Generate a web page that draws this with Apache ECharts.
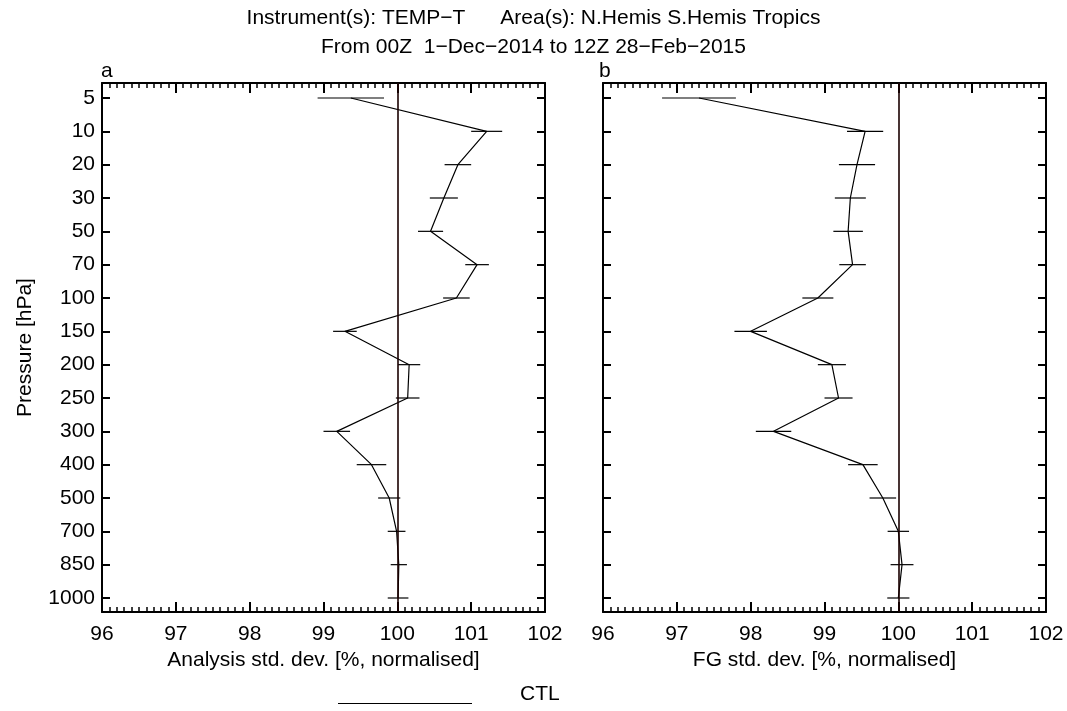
<!DOCTYPE html>
<html>
<head>
<meta charset="utf-8">
<script src="https://cdn.jsdelivr.net/npm/echarts@6/dist/echarts.min.js"></script>
<style>
html,body{margin:0;padding:0;background:#fff;}
#chart{width:1067px;height:711px;}
</style>
</head>
<body>
<div id="chart"></div>
<script>
// Pressure levels (hPa), top to bottom
const levels = [5, 10, 20, 30, 50, 70, 100, 150, 200, 250, 300, 400, 500, 700, 850, 1000];
// Panel a: Analysis std. dev. [%, normalised]
const anValues = [99.37, 101.21, 100.82, 100.63, 100.45, 101.08, 100.80, 99.29, 100.16, 100.14, 99.18, 99.65, 99.89, 99.99, 100.02, 100.01];
const anErrors = [0.45, 0.21, 0.18, 0.19, 0.17, 0.16, 0.18, 0.16, 0.15, 0.16, 0.18, 0.20, 0.15, 0.12, 0.11, 0.14];
// Panel b: FG std. dev. [%, normalised]
const fgValues = [97.30, 99.55, 99.44, 99.35, 99.32, 99.38, 98.91, 98.00, 99.10, 99.19, 98.31, 99.52, 99.79, 100.00, 100.05, 100.00];
const fgErrors = [0.50, 0.245, 0.245, 0.21, 0.20, 0.18, 0.21, 0.22, 0.19, 0.19, 0.24, 0.20, 0.18, 0.145, 0.155, 0.15];
const xTicks = [96, 97, 98, 99, 100, 101, 102];
const ctlValue = 100;

const FONT = 'Liberation Sans, Arial, Helvetica, sans-serif';
const FS = 21;
const chart = echarts.init(document.getElementById('chart'), null, {renderer: 'canvas'});

const idx = levels.map((_, i) => i);
const grids = [
  {left: 102, top: 83, width: 443, height: 529},
  {left: 603, top: 83, width: 443, height: 529}
];

function xAxisCfg(grid, pos, name) {
  return {
    type: 'value', gridIndex: grid, position: pos,
    min: xTicks[0], max: xTicks[xTicks.length - 1], interval: 1,
    name: name || '', nameLocation: 'middle', nameGap: 37,
    nameTextStyle: {fontFamily: FONT, fontSize: FS, color: '#000'},
    axisLine: {show: true, onZero: false, lineStyle: {color: '#000', width: 2}},
    axisTick: {show: true, inside: true, length: 10, lineStyle: {color: '#000', width: 2}},
    minorTick: {show: true, splitNumber: 10, length: 5, lineStyle: {color: '#000', width: 1.5}},
    axisLabel: {show: pos === 'bottom', fontFamily: FONT, fontSize: FS, color: '#000', margin: 12},
    splitLine: {show: false}, minorSplitLine: {show: false}
  };
}
function yAxisCfg(grid, pos, labels) {
  return {
    type: 'value', gridIndex: grid, position: pos, inverse: true,
    min: -0.45, max: 15.42,
    name: (labels && grid === 0) ? 'Pressure [hPa]' : '', nameLocation: 'middle', nameGap: 66,
    nameTextStyle: {fontFamily: FONT, fontSize: FS, color: '#000'},
    axisLine: {show: true, onZero: false, lineStyle: {color: '#000', width: 2}},
    axisTick: {show: true, inside: true, length: 8, customValues: idx, lineStyle: {color: '#000', width: 2}},
    axisLabel: {show: !!labels, customValues: idx, fontFamily: FONT, fontSize: FS, color: '#000', margin: 7,
      formatter: v => levels[Math.round(v)]},
    splitLine: {show: false}
  };
}

function lineSeries(k, vals) {
  return {
    type: 'line', xAxisIndex: k * 2, yAxisIndex: k * 2, symbol: 'none', silent: true,
    data: vals.map((v, i) => [v, i]),
    lineStyle: {color: '#000', width: 1.2},
    markLine: {
      silent: true, symbol: 'none', label: {show: false},
      lineStyle: {color: '#1a0000', width: 1.6, type: 'solid'},
      data: [{xAxis: ctlValue}]
    },
    z: 3
  };
}
function errSeries(k, vals, errs) {
  return {
    type: 'custom', xAxisIndex: k * 2, yAxisIndex: k * 2, silent: true,
    data: vals.map((v, i) => [v - errs[i], v + errs[i], i]),
    renderItem: (params, api) => {
      const a = api.coord([api.value(0), api.value(2)]);
      const b = api.coord([api.value(1), api.value(2)]);
      return {type: 'line', shape: {x1: a[0], y1: a[1], x2: b[0], y2: b[1]},
        style: {stroke: '#000', lineWidth: 1.2}};
    },
    z: 4
  };
}

const txt = {fontFamily: FONT, fontSize: FS, fontWeight: 'normal', color: '#000'};
const option = {
  backgroundColor: '#fff',
  animation: false,
  textStyle: {fontFamily: FONT},
  grid: grids,
  title: [
    {text: 'Instrument(s): TEMP\u2212T      Area(s): N.Hemis S.Hemis Tropics', left: 'center', top: 3, textStyle: txt},
    {text: 'From 00Z  1\u2212Dec\u22122014 to 12Z 28\u2212Feb\u22122015', left: 'center', top: 32, textStyle: txt},
    {text: 'a', left: 96, top: 56, textStyle: txt},
    {text: 'b', left: 594, top: 56, textStyle: txt}
  ],
  xAxis: [
    xAxisCfg(0, 'bottom', 'Analysis std. dev. [%, normalised]'),
    xAxisCfg(0, 'top'),
    xAxisCfg(1, 'bottom', 'FG std. dev. [%, normalised]'),
    xAxisCfg(1, 'top')
  ],
  yAxis: [
    yAxisCfg(0, 'left', true),
    yAxisCfg(0, 'right', false),
    yAxisCfg(1, 'left', false),
    yAxisCfg(1, 'right', false)
  ],
  series: [
    lineSeries(0, anValues), errSeries(0, anValues, anErrors),
    lineSeries(1, fgValues), errSeries(1, fgValues, fgErrors)
  ],
  graphic: [
    {type: 'line', shape: {x1: 338, y1: 703.5, x2: 472, y2: 703.5}, style: {stroke: '#000', lineWidth: 1}},
    {type: 'text', left: 520, top: 684, style: {text: 'CTL', font: FS + 'px ' + FONT, fill: '#000'}}
  ]
};
chart.setOption(option);
</script>
</body>
</html>
